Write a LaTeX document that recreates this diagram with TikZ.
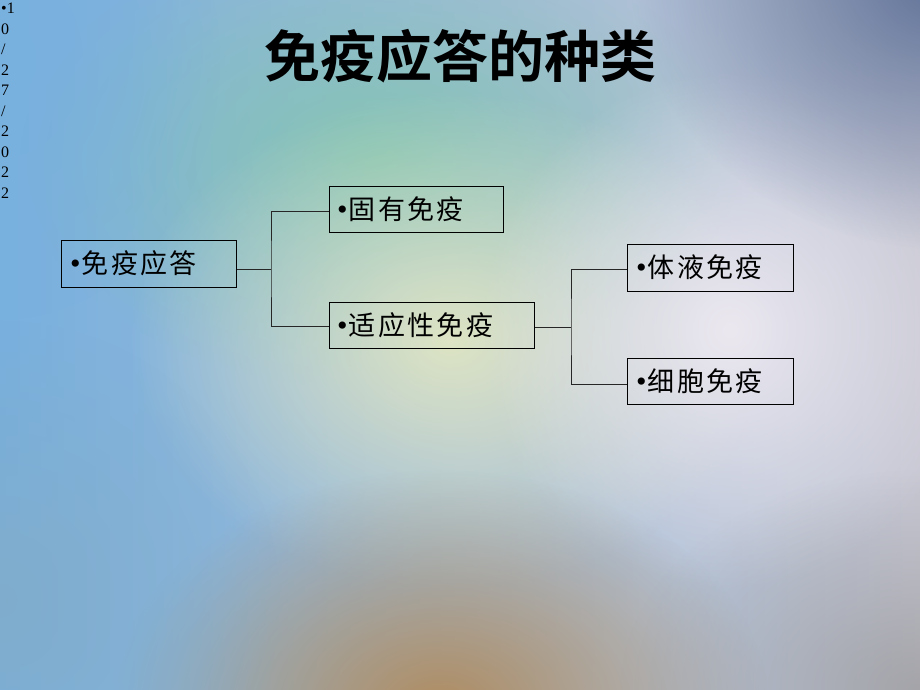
\documentclass[tikz,border=0pt]{standalone}
\usepackage{fontspec}
\setmainfont{Liberation Serif}
\newfontfamily\cjk[LetterSpace=9]{Noto Sans CJK SC}
\newfontfamily\cjkb{Noto Sans CJK SC Bold}
\usetikzlibrary{fadings}
\tikzfading[name=blobfade, inner color=transparent!0, outer color=transparent!100]
\definecolor{bgleft}{RGB}{120,176,222}
\definecolor{bgright}{RGB}{200,200,212}
\definecolor{bgcenter}{RGB}{222,228,196}
\definecolor{bgwarm}{RGB}{176,140,96}
\definecolor{bgtr}{RGB}{90,110,150}
\definecolor{bgteal}{RGB}{130,196,176}
\definecolor{bglav}{RGB}{236,232,240}
\definecolor{bgbl}{RGB}{130,172,200}
\newcommand{\bul}{{\rmfamily\fontsize{30}{30}\selectfont •}}
\tikzset{
  blk/.style={draw=black, line width=0.9pt, inner sep=0pt, anchor=north west, align=left},
  conn/.style={draw=black!85, line width=0.9pt},
  boxtxt/.style={font=\cjk\fontsize{27}{30}\selectfont, inner sep=0pt}
}
\begin{document}
\begin{tikzpicture}[x=1pt,y=-1pt]
\useasboundingbox (0,0) rectangle (920,690);
% background
\shade[left color=bgleft, right color=bgright] (0,0) rectangle (920,690);
\fill[bgteal, path fading=blobfade, opacity=0.95] (380,160) ellipse (360 and 230);
\fill[bgcenter, path fading=blobfade] (450,340) ellipse (320 and 250);
\fill[bglav, path fading=blobfade] (730,330) ellipse (250 and 260);
\fill[bgwarm, path fading=blobfade] (440,710) ellipse (330 and 240);
\fill[bgtr, path fading=blobfade] (950,-30) ellipse (320 and 280);
\fill[bgbl, path fading=blobfade, opacity=0.8] (0,600) ellipse (280 and 280);
\fill[bgleft, path fading=blobfade, opacity=0.8] (0,60) ellipse (220 and 260);
\fill[black!45, path fading=blobfade, opacity=0.6] (920,690) ellipse (300 and 220);
% date
\node[anchor=north west, inner sep=0pt, align=left, font=\fontsize{16}{20.5}\selectfont] (date) at (1,3)
  {•1\\0\\/\\2\\7\\/\\2\\0\\2\\2};
% title
\node[font=\cjkb\fontsize{56}{60}\selectfont] (title) at (460,56) {免疫应答的种类};
% boxes
\node[blk, minimum width=175, minimum height=47] (root) at (61,240) {};
\node[boxtxt, anchor=west] (roott) at (70,263.5) {\bul\hspace{1pt}免疫应答};
\node[blk, minimum width=174, minimum height=46] (innate) at (329,186) {};
\node[boxtxt, anchor=west] (innatet) at (337,209) {\bul\hspace{1pt}固有免疫};
\node[blk, minimum width=205, minimum height=46] (adapt) at (329,302) {};
\node[boxtxt, anchor=west] (adaptt) at (337,325) {\bul\hspace{1pt}适应性免疫};
\node[blk, minimum width=166, minimum height=47] (humor) at (627,244) {};
\node[boxtxt, anchor=west] (humort) at (636,267.5) {\bul\hspace{1pt}体液免疫};
\node[blk, minimum width=166, minimum height=46] (cell) at (627,358) {};
\node[boxtxt, anchor=west] (cellt) at (636,381) {\bul\hspace{1pt}细胞免疫};
% connectors
\coordinate (j1) at (271,269);
\coordinate (j2) at (571,327);
\draw[conn] (root.east |- j1) -- (j1);
\draw[conn] (innate.west |- 0,211) -| (j1) |- (adapt.west |- 0,326);
\draw[conn] (adapt.east |- j2) -- (j2);
\draw[conn] (humor.west |- 0,269) -| (j2) |- (cell.west |- 0,384);
\end{tikzpicture}
\end{document}
